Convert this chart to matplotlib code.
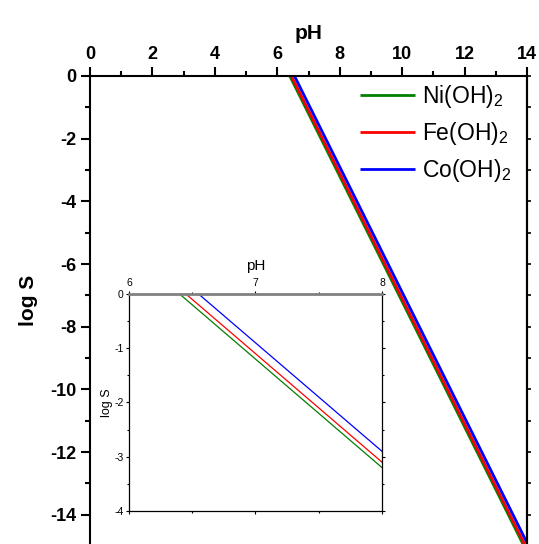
import matplotlib
matplotlib.use("Agg")
import matplotlib.pyplot as plt
from matplotlib.ticker import MultipleLocator

plt.rcParams['font.family'] = ['Liberation Sans', 'DejaVu Sans']
plt.rcParams['mathtext.fontset'] = 'custom'
plt.rcParams['mathtext.rm'] = 'Liberation Sans'
plt.rcParams['mathtext.it'] = 'Liberation Sans:italic'
plt.rcParams['mathtext.bf'] = 'Liberation Sans:bold'
plt.rcParams['axes.unicode_minus'] = False

# hydroxides, line colours
names = ['Ni(OH)$_2$', 'Fe(OH)$_2$', 'Co(OH)$_2$']
colors = ['#008000', '#ff0000', '#0000ff']

# main plot: straight lines from log S = 0 to pH 14
ph_start = [6.40, 6.45, 6.55]
ph_end_main = [14.0, 14.0, 14.0]
logs_end_main = [-15.2, -15.1, -14.9]

# inset: pH 6-8
ph_end_inset = [8.0, 8.0, 8.0]
logs_end_inset = [-3.2, -3.1, -2.9]

fig = plt.figure(figsize=(5.39, 5.44), dpi=100)
ax = fig.add_axes([0.167, -0.0037, 0.8108, 0.864])

for i in range(3):
    ax.plot([ph_start[i], ph_end_main[i]], [0, logs_end_main[i]],
            color=colors[i], lw=2.0, label=names[i], solid_capstyle='butt')

ax.set_xlim(0, 14)
ax.set_ylim(-15, 0)
ax.xaxis.set_ticks_position('top')
ax.xaxis.set_label_position('top')
ax.xaxis.set_major_locator(MultipleLocator(2))
ax.xaxis.set_minor_locator(MultipleLocator(1))
ax.yaxis.set_major_locator(MultipleLocator(2))
ax.yaxis.set_minor_locator(MultipleLocator(1))
ax.tick_params(which='major', direction='out', length=6.5, width=1.5,
               labelsize=13, pad=3)
ax.tick_params(which='minor', direction='out', length=3.5, width=1.5)
ax.tick_params(top=True, bottom=False, left=True, right=False, which='both')
for lab in ax.get_xticklabels() + ax.get_yticklabels():
    lab.set_fontweight('bold')
for s in ax.spines.values():
    s.set_linewidth(1.5)

sec = ax.secondary_yaxis('right')
sec.yaxis.set_major_locator(MultipleLocator(1))
sec.tick_params(direction='out', length=3, width=1.2, labelright=False)
sec.spines['right'].set_linewidth(1.5)

ax.set_xlabel('pH', fontsize=15, fontweight='bold', labelpad=5)
ax.set_ylabel('log S', fontsize=15, fontweight='bold')
ax.yaxis.set_label_coords(-0.12, 0.523)

leg = ax.legend(loc='upper right', frameon=False, fontsize=16.5,
                handlelength=2.4, handletextpad=0.3, labelspacing=0.42,
                borderaxespad=0.0, bbox_to_anchor=(0.985, 1.004))

# inset
axi = fig.add_axes([0.2393, 0.0607, 0.4694, 0.3989])
for i in range(3):
    axi.plot([ph_start[i], ph_end_inset[i]], [0, logs_end_inset[i]],
             color=colors[i], lw=0.9)
axi.set_xlim(6, 8)
axi.set_ylim(-4, 0)
axi.xaxis.set_ticks_position('top')
axi.xaxis.set_label_position('top')
axi.xaxis.set_major_locator(MultipleLocator(1))
axi.xaxis.set_minor_locator(MultipleLocator(0.5))
axi.yaxis.set_major_locator(MultipleLocator(1))
axi.yaxis.set_minor_locator(MultipleLocator(0.5))
axi.tick_params(which='both', labelsize=7.5, length=2.5, width=0.8, pad=1.5)
axi.tick_params(which='minor', length=1.5)
axi.tick_params(which='both', top=True, bottom=True, left=True, right=True,
                labelbottom=False, labelright=False)
for s in axi.spines.values():
    s.set_linewidth(0.9)
axi.spines['top'].set_color('#808080')
axi.spines['top'].set_linewidth(2.0)
axi.set_xlabel('pH', fontsize=11, labelpad=6)
axi.set_ylabel('log S', fontsize=9, labelpad=1)

fig.savefig('out.png', dpi=100)
